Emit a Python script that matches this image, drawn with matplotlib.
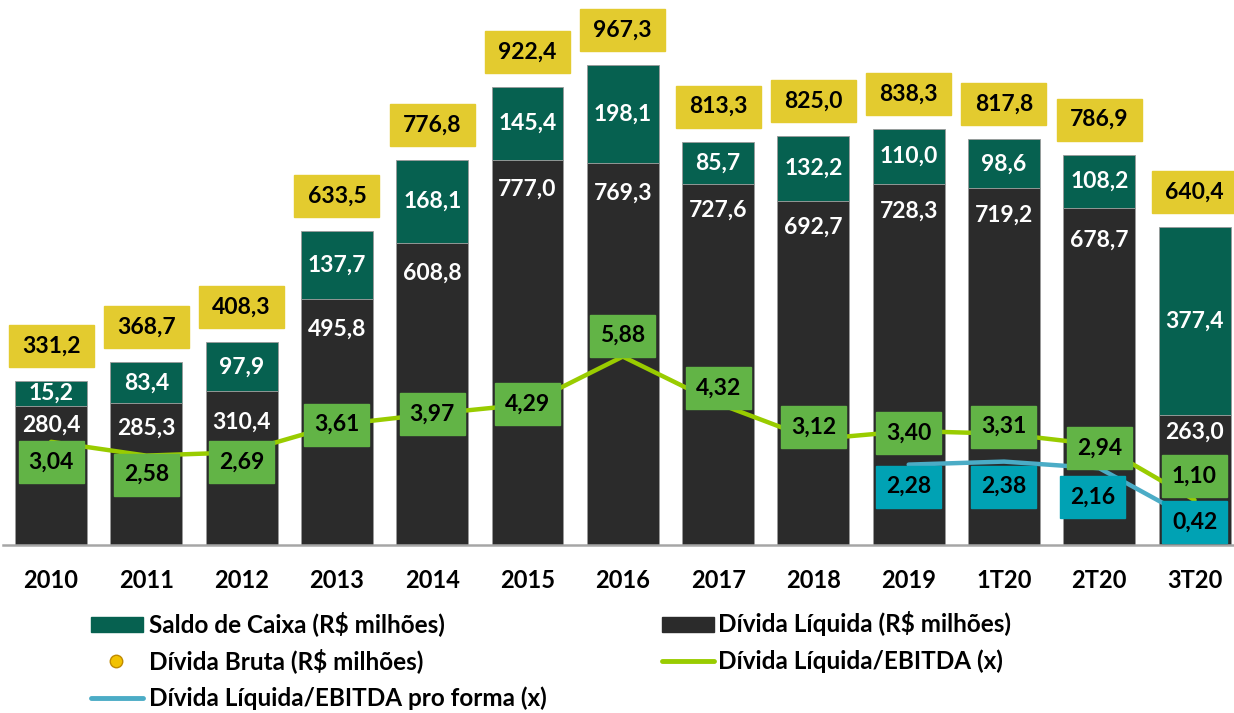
import matplotlib.pyplot as plt
from matplotlib.patches import Rectangle
from matplotlib.lines import Line2D

plt.rcParams["font.family"] = ["Lato", "DejaVu Sans"]
plt.rcParams["font.weight"] = "bold"

periodos = ["2010", "2011", "2012", "2013", "2014", "2015", "2016",
            "2017", "2018", "2019", "1T20", "2T20", "3T20"]
divida_liquida = [280.4, 285.3, 310.4, 495.8, 608.8, 777.0, 769.3,
                  727.6, 692.7, 728.3, 719.2, 678.7, 263.0]
saldo_caixa = [15.2, 83.4, 97.9, 137.7, 168.1, 145.4, 198.1,
               85.7, 132.2, 110.0, 98.6, 108.2, 377.4]
divida_bruta = [331.2, 368.7, 408.3, 633.5, 776.8, 922.4, 967.3,
                813.3, 825.0, 838.3, 817.8, 786.9, 640.4]
alavancagem = [3.04, 2.58, 2.69, 3.61, 3.97, 4.29, 5.88,
               4.32, 3.12, 3.40, 3.31, 2.94, 1.10]
periodos_pro_forma = ["2019", "1T20", "2T20", "3T20"]
alavancagem_pro_forma = [2.28, 2.38, 2.16, 0.42]

# colours
c_caixa = "#066150"
c_liq = "#2b2b2b"
c_bruta = "#e3cb2f"
c_box_verde = "#62b446"
c_linha_verde = "#99cc00"
c_box_azul = "#00a2b4"
c_linha_azul = "#4bacc6"

W, H = 1234, 713
px_cat = 95.3   # px per category
px_y1 = 0.496   # px per R$ mn
px_y2 = 30.0    # px per x

# label placement tweaks (px), taken from the original layout
dy_liq = [19, 25, 31, 30, 30, 30, 30, 26, 26, 27, 27, 32, 18]
dy_ratio = [20, 19, 10, 0, 0, 0, -21, -15, -12, 2, -7, 3, -24]
dy_pro_forma = [22, 25, 29, 2]

fig = plt.figure(figsize=(W / 100, H / 100), dpi=100)
ax = fig.add_axes([3 / W, 168 / H, (W - 3) / W, 545 / H])
ax.set_xlim(-0.504, 12.414)
ax.set_ylim(0, 545 / px_y1)

x = list(range(len(periodos)))
topo_caixa = [b - l for b, l in zip(divida_bruta, divida_liquida)]

ax.bar(x, divida_liquida, width=0.755, color=c_liq, edgecolor="#9a9a9a", linewidth=0.6, zorder=2)
ax.bar(x, topo_caixa, bottom=divida_liquida, width=0.755, color=c_caixa,
       edgecolor="#9a9a9a", linewidth=0.6, zorder=2)

fmt = lambda v: f"{v:.1f}".replace(".", ",")
fmt2 = lambda v: f"{v:.2f}".replace(".", ",")
fs = 16.5

for i in x:
    # net debt label
    ax.text(i, divida_liquida[i] - dy_liq[i] / px_y1, fmt(divida_liquida[i]),
            ha="center", va="center", color="white", fontsize=fs, fontweight="bold", zorder=4)
    # cash label, centred in the teal block
    ax.text(i, (divida_liquida[i] + divida_bruta[i]) / 2, fmt(saldo_caixa[i]),
            ha="center", va="center", color="white", fontsize=fs, fontweight="bold", zorder=4)
    # gross debt yellow box
    bw = 85 / px_cat
    y0 = divida_bruta[i] + 14 / px_y1
    ax.add_patch(Rectangle((i - bw / 2, y0), bw, 42 / px_y1, color=c_bruta, zorder=3, clip_on=False))
    ax.text(i, y0 + 21 / px_y1, fmt(divida_bruta[i]), ha="center", va="center",
            color="black", fontsize=fs, fontweight="bold", zorder=4)

ax.set_xticks(x)
ax.set_xticklabels(periodos, fontsize=17, fontweight="bold")
ax.tick_params(axis="x", length=0, pad=17)
ax.set_yticks([])
for s in ["top", "left", "right"]:
    ax.spines[s].set_visible(False)
ax.spines["bottom"].set_color("#a6a6a6")
ax.spines["bottom"].set_linewidth(1.8)

ax2 = ax.twinx()
ax2.set_ylim(-12 / px_y2, 533 / px_y2)
ax2.set_yticks([])
for s in ax2.spines.values():
    s.set_visible(False)

xp = [periodos.index(p) for p in periodos_pro_forma]
ax2.plot(x, alavancagem, color=c_linha_verde, lw=3.2, zorder=3, solid_capstyle="round")
ax2.plot(xp, alavancagem_pro_forma, color=c_linha_azul, lw=3.2, zorder=3, solid_capstyle="round")

bw2, bh2 = 65 / px_cat, 42 / px_y2
for i, v in enumerate(alavancagem):
    yc = v - dy_ratio[i] / px_y2
    ax2.add_patch(Rectangle((i - bw2 / 2, yc - bh2 / 2), bw2, bh2, color=c_box_verde, zorder=4))
    ax2.text(i, yc, fmt2(v), ha="center", va="center", fontsize=fs, fontweight="bold", zorder=5)
for j, (i, v) in enumerate(zip(xp, alavancagem_pro_forma)):
    yc = v - dy_pro_forma[j] / px_y2
    xc = i - (7 / px_cat if j == 2 else 0)
    ax2.add_patch(Rectangle((xc - bw2 / 2, yc - bh2 / 2), bw2, bh2, color=c_box_azul, zorder=4))
    ax2.text(xc, yc, fmt2(v), ha="center", va="center", fontsize=fs, fontweight="bold", zorder=5)

# legend, laid out by hand
def fx(px):
    return px / W

def fy(py):
    return 1 - py / H

lf = 17.5
fig.patches.append(Rectangle((fx(91), fy(632)), fx(52), 15 / H, color=c_caixa, transform=fig.transFigure))
fig.text(fx(149), fy(624), "Saldo de Caixa (R$ milhões)", fontsize=lf, fontweight="bold", va="center")
fig.patches.append(Rectangle((fx(662), fy(632)), fx(52), 15 / H, color=c_liq, transform=fig.transFigure))
fig.text(fx(718), fy(624), "Dívida Líquida (R$ milhões)", fontsize=lf, fontweight="bold", va="center")

fig.lines.append(Line2D([fx(116)], [fy(661)], marker="o", markersize=9, color="#f2c200",
                        markeredgecolor="#c08a00", transform=fig.transFigure))
fig.text(fx(149), fy(661), "Dívida Bruta (R$ milhões)", fontsize=lf, fontweight="bold", va="center")
fig.lines.append(Line2D([fx(662), fx(714)], [fy(661), fy(661)], color=c_linha_verde, lw=3.5,
                        solid_capstyle="round", transform=fig.transFigure))
fig.text(fx(718), fy(661), "Dívida Líquida/EBITDA (x)", fontsize=lf, fontweight="bold", va="center")

fig.lines.append(Line2D([fx(91), fx(143)], [fy(698), fy(698)], color=c_linha_azul, lw=3.5,
                        solid_capstyle="round", transform=fig.transFigure))
fig.text(fx(149), fy(698), "Dívida Líquida/EBITDA pro forma (x)", fontsize=lf, fontweight="bold", va="center")

fig.savefig("out.png", dpi=100)
